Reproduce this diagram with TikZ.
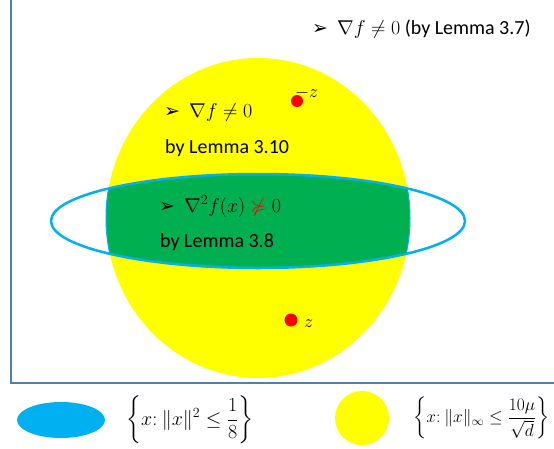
\documentclass[tikz,border=0pt]{standalone}
\usepackage{fix-cm}
\usepackage{amsmath}
\usepackage{amssymb}
\usepackage{fontspec}
\setmainfont{Carlito}
\newfontfamily\dejavu{DejaVu Sans}
\definecolor{framec}{HTML}{4E7FBA}
\definecolor{ellc}{HTML}{00B0F0}
\definecolor{yelc}{HTML}{FFFF00}
\definecolor{grnc}{HTML}{00B050}
\definecolor{redc}{HTML}{FF0000}
\tikzset{
  txt/.style={font=\fontsize{20}{24}\selectfont, inner sep=0pt, anchor=base west},
  dotc/.style={fill=redc, draw=none}
}
\newcommand{\bul}{{\dejavu\fontsize{19}{20}\selectfont ➢}}
\begin{document}
\begin{tikzpicture}[x=1pt,y=-1pt]
\useasboundingbox (0,0) rectangle (554,448);
% frame
\draw[framec, line width=2.5pt] (11,0) coordinate (ft) -- (11,383) coordinate (fc) -- (554,383) coordinate (fr);
% yellow ball
\fill[yelc] (258,218) ellipse [x radius=152, y radius=160];
% green intersection
\begin{scope}
  \clip (258,218) ellipse [x radius=152, y radius=160];
  \fill[grnc] (258,221) ellipse [x radius=207, y radius=47];
\end{scope}
\begin{scope}
  \clip (258,221) ellipse [x radius=207, y radius=47];
  \draw[ellc, line width=1pt] (258,218) ellipse [x radius=152, y radius=160];
\end{scope}
\draw[ellc, line width=2.5pt] (258,221) ellipse [x radius=207, y radius=47];
% dots
\fill[dotc] (297,101) circle [radius=6];
\node[txt, font=\fontsize{18}{20}\selectfont] (mz) at (295,97) {$-z$};
\fill[dotc] (291,320) circle [radius=6.5];
\node[txt, font=\fontsize{18}{20}\selectfont] (pz) at (304,327) {$z$};
% texts
\node[txt] (t1) at (312,34) {\bul\hspace{9pt}$\nabla f\neq 0$ (by Lemma 3.7)};
\node[txt] (t2) at (164,117) {\bul\hspace{9pt}$\nabla f\neq 0$};
\node[txt] (t3) at (165,153) {by Lemma 3.10};
\node[txt] (t4) at (159,212) {\bul\hspace{9pt}$\nabla^2 f(x)\mathrel{\textcolor{redc}{\not\succcurlyeq}} 0$};
\node[txt] (t5) at (160,247) {by Lemma 3.8};
% legend
\fill[ellc] (61,420) ellipse [x radius=44, y radius=18];
\node[txt, anchor=west, font=\fontsize{20}{24}\selectfont] (l1) at (126,420) {$\left\{x{:}\ \|x\|^2\le\dfrac{1}{8}\right\}$};
\fill[yelc] (362,418) circle [radius=27];
\node[txt, anchor=west, font=\fontsize{17.5}{21}\selectfont] (l2) at (413,418) {$\left\{x{:}\ \|x\|_\infty\le\dfrac{10\mu}{\sqrt{d}}\right\}$};
\end{tikzpicture}
\end{document}
